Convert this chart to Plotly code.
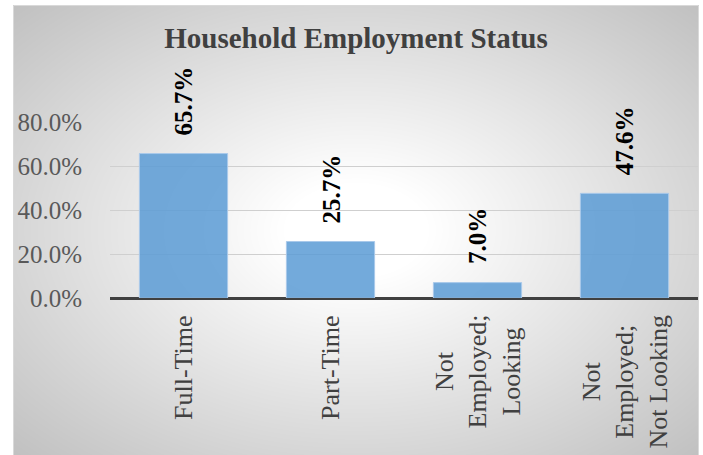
import base64
import struct
import zlib

import numpy as np
import plotly.graph_objects as go

# ---------------- data ----------------
categories = ["Full-Time", "Part-Time", "Not Employed; Looking", "Not Employed; Not Looking"]
category_labels = ["Full-Time", "Part-Time", "Not<br>Employed;<br>Looking", "Not<br>Employed;<br>Not Looking"]
values = [0.657, 0.257, 0.070, 0.476]
y_tick_values = [0.0, 0.2, 0.4, 0.6, 0.8]
y_tick_labels = ["0.0%", "20.0%", "40.0%", "60.0%", "80.0%"]
title_text = "Household Employment Status"

# ---------------- layout geometry (pixels) ----------------
W, H = 703, 455
ML, MR, MT, MB = 110, 5, 122, 157
PW = W - ML - MR
PH = H - MT - MB
CHART_X0, CHART_Y0, CHART_X1, CHART_Y1 = 13, 5, 699, 455

SERIF = "Liberation Serif, Times New Roman, serif"


def png_data_uri(arr):
    h, w = arr.shape
    raw = b"".join(b"\x00" + arr[i].tobytes() for i in range(h))

    def chunk(t, d):
        return struct.pack(">I", len(d)) + t + d + struct.pack(">I", zlib.crc32(t + d) & 0xFFFFFFFF)

    png = (b"\x89PNG\r\n\x1a\n"
           + chunk(b"IHDR", struct.pack(">IIBBBBB", w, h, 8, 0, 0, 0, 0))
           + chunk(b"IDAT", zlib.compress(raw, 9))
           + chunk(b"IEND", b""))
    return "data:image/png;base64," + base64.b64encode(png).decode()


# radial gradient background (white centre, grey edges)
gw, gh = CHART_X1 - CHART_X0, CHART_Y1 - CHART_Y0
yy, xx = np.mgrid[0:gh, 0:gw]
dx = (xx - gw * 0.5) / (gw * 0.5)
dy = (yy - gh * 0.5) / (gh * 0.5)
d = np.sqrt(dx ** 2 + dy ** 2) / np.sqrt(2)
t = np.clip((d - 0.15) / 0.85, 0, 1)
grey = (255 - 62 * t).astype(np.uint8)
bg_uri = png_data_uri(grey)


def px_to_paper_x(px):
    return (px - ML) / PW


def px_to_paper_y(py):
    return (H - MB - py) / PH


fig = go.Figure()
fig.add_trace(go.Bar(
    x=categories,
    y=values,
    marker=dict(color="rgba(91,155,213,0.85)", line=dict(color="#a9c9ea", width=1)),
    hoverinfo="skip",
))

annotations = []
for c, v in zip(categories, values):
    annotations.append(dict(
        x=c, y=v, xref="x", yref="y",
        text=f"{v * 100:.1f}%", textangle=-90,
        xanchor="center", yanchor="bottom", yshift=16,
        showarrow=False,
        font=dict(family=SERIF, size=25, color="#000000", weight="bold"),
    ))
for c, lab in zip(categories, category_labels):
    annotations.append(dict(
        x=c, y=0, xref="x", yref="y",
        text=lab, textangle=-90, align="center",
        xanchor="center", yanchor="top", yshift=-15,
        showarrow=False,
        font=dict(family=SERIF, size=26, color="#404040"),
    ))

fig.update_layout(
    width=W, height=H,
    margin=dict(l=ML, r=MR, t=MT, b=MB, pad=0),
    paper_bgcolor="#ffffff",
    plot_bgcolor="rgba(0,0,0,0)",
    showlegend=False,
    bargap=0.4,
    title=dict(
        text=title_text,
        x=(CHART_X0 + CHART_X1) / 2 / W, xanchor="center", xref="container",
        y=1 - 38 / H, yanchor="middle", yref="container",
        font=dict(family=SERIF, size=29, color="#404040", weight="bold"),
    ),
    xaxis=dict(
        showticklabels=False, showgrid=False, zeroline=False, showline=False, ticks="",
    ),
    yaxis=dict(
        range=[0, 0.8005],
        tickmode="array", tickvals=y_tick_values, ticktext=y_tick_labels,
        showgrid=True, gridcolor="#cfcfcf", gridwidth=1,
        zeroline=True, zerolinecolor="#404040", zerolinewidth=3,
        showline=False, ticks="",
        ticklabelstandoff=27,
        tickfont=dict(family=SERIF, size=25, color="#595959"),
    ),
    annotations=annotations,
    images=[dict(
        source=bg_uri, xref="paper", yref="paper",
        x=px_to_paper_x(CHART_X0), y=px_to_paper_y(CHART_Y0),
        sizex=gw / PW, sizey=gh / PH,
        xanchor="left", yanchor="top", sizing="stretch", layer="below",
    )],
    shapes=[dict(
        type="rect", xref="paper", yref="paper",
        x0=px_to_paper_x(CHART_X0 + 0.5), x1=px_to_paper_x(CHART_X1 - 0.5),
        y0=px_to_paper_y(CHART_Y1 + 2), y1=px_to_paper_y(CHART_Y0 + 0.5),
        line=dict(color="#d9d9d9", width=1), fillcolor="rgba(0,0,0,0)", layer="below",
    )],
)

fig.write_html(
    "out.html",
    config={"displayModeBar": False},
    post_script="document.body.style.margin='0px';document.body.style.padding='0px';",
)
